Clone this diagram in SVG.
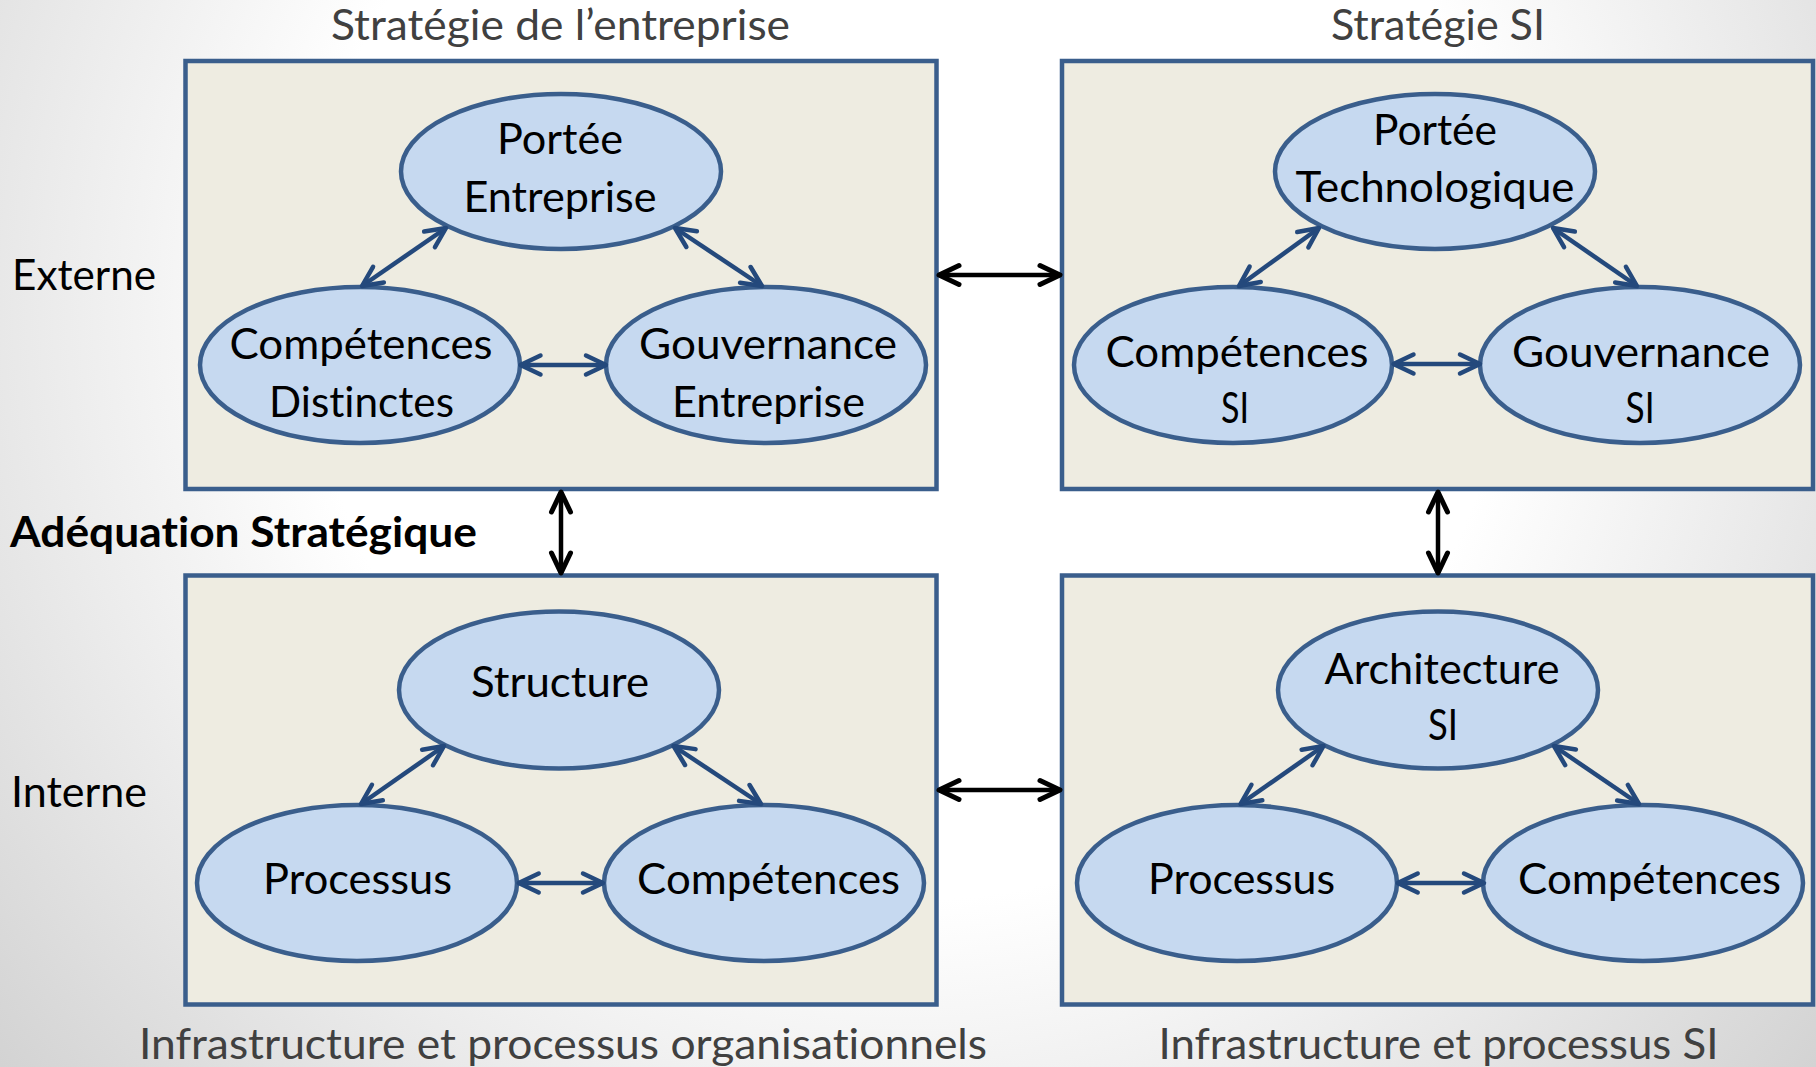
<svg xmlns="http://www.w3.org/2000/svg" width="1816" height="1067" viewBox="0 0 1816 1067">
<defs>
<radialGradient id="bg" gradientUnits="userSpaceOnUse" cx="908" cy="300" r="1200">
<stop offset="0" stop-color="#ffffff"/>
<stop offset="0.5" stop-color="#ffffff"/>
<stop offset="1" stop-color="#d2d2d2"/>
</radialGradient>
<marker id="hb" markerUnits="userSpaceOnUse" orient="auto-start-reverse" refX="0" refY="0" markerWidth="40" markerHeight="40" overflow="visible">
<path d="M-20,-9.5 L0,0 L-20,9.5" fill="none" stroke="#24497c" stroke-width="4.5" stroke-linecap="round" stroke-linejoin="round"/>
</marker>
<marker id="hk" markerUnits="userSpaceOnUse" orient="auto-start-reverse" refX="0" refY="0" markerWidth="40" markerHeight="40" overflow="visible">
<path d="M-20,-9.5 L0,0 L-20,9.5" fill="none" stroke="#000000" stroke-width="5" stroke-linecap="round" stroke-linejoin="round"/>
</marker>
</defs>
<style>
.box{fill:#eeece1;stroke:#3a5e8c;stroke-width:4.5}
.ell{fill:#c6d9f0;stroke:#3a5e8c;stroke-width:4.5}
.t{font-family:Lato,"Liberation Sans",sans-serif;font-size:42px;fill:#000000;font-variant-ligatures:none;font-feature-settings:"liga" 0,"clig" 0}
.c{text-anchor:middle}
.g{fill:#404040}
.b{font-weight:bold}
.ab{stroke:#24497c;stroke-width:4.5;fill:none;marker-start:url(#hb);marker-end:url(#hb)}
.ak{stroke:#000000;stroke-width:4.5;fill:none;marker-start:url(#hk);marker-end:url(#hk)}
</style>
<rect x="0" y="0" width="1816" height="1067" fill="url(#bg)"/>

<g id="labels">
<text class="t c g" x="560.5" y="40" textLength="459" lengthAdjust="spacingAndGlyphs">Stratégie de l’entreprise</text>
<text class="t c g" x="1438" y="40" textLength="214" lengthAdjust="spacingAndGlyphs">Stratégie SI</text>
<text class="t" x="12" y="290" textLength="144" lengthAdjust="spacingAndGlyphs">Externe</text>
<text class="t b" x="10" y="547" textLength="467" lengthAdjust="spacingAndGlyphs">Adéquation Stratégique</text>
<text class="t" x="11" y="807" textLength="136" lengthAdjust="spacingAndGlyphs">Interne</text>
<text class="t c g" x="563" y="1059" textLength="848" lengthAdjust="spacingAndGlyphs">Infrastructure et processus organisationnels</text>
<text class="t c g" x="1438.5" y="1059" textLength="560" lengthAdjust="spacingAndGlyphs">Infrastructure et processus SI</text>
</g>

<g id="box-strategie-entreprise">
<rect class="box" x="185.5" y="61" width="751" height="428"/>
</g>
<g id="box-strategie-si">
<rect class="box" x="1062" y="61" width="751" height="428"/>
</g>
<g id="box-infra-org">
<rect class="box" x="185.5" y="575.5" width="751" height="429"/>
</g>
<g id="box-infra-si">
<rect class="box" x="1062" y="575.5" width="751" height="429"/>
</g>

<g id="node-portee-entreprise">
<ellipse class="ell" cx="561" cy="171.5" rx="160" ry="77.5"/>
<text class="t c" x="560" y="154" textLength="126" lengthAdjust="spacingAndGlyphs">Portée</text>
<text class="t c" x="560" y="212" textLength="193" lengthAdjust="spacingAndGlyphs">Entreprise</text>
</g>
<g id="node-competences-distinctes">
<ellipse class="ell" cx="360" cy="365" rx="160" ry="78"/>
<text class="t c" x="361" y="359" textLength="263" lengthAdjust="spacingAndGlyphs">Compétences</text>
<text class="t c" x="361.5" y="417" textLength="185" lengthAdjust="spacingAndGlyphs">Distinctes</text>
</g>
<g id="node-gouvernance-entreprise">
<ellipse class="ell" cx="766" cy="365" rx="160" ry="78"/>
<text class="t c" x="768" y="359" textLength="258" lengthAdjust="spacingAndGlyphs">Gouvernance</text>
<text class="t c" x="768.5" y="417" textLength="193" lengthAdjust="spacingAndGlyphs">Entreprise</text>
</g>

<g id="node-portee-technologique">
<ellipse class="ell" cx="1435" cy="171.5" rx="160" ry="77.5"/>
<text class="t c" x="1435" y="145" textLength="124" lengthAdjust="spacingAndGlyphs">Portée</text>
<text class="t c" x="1435" y="202" textLength="279" lengthAdjust="spacingAndGlyphs">Technologique</text>
</g>
<g id="node-competences-si">
<ellipse class="ell" cx="1233" cy="365" rx="159" ry="78"/>
<text class="t c" x="1237" y="367" textLength="263" lengthAdjust="spacingAndGlyphs">Compétences</text>
<text class="t c" x="1235" y="423" textLength="28" lengthAdjust="spacingAndGlyphs">SI</text>
</g>
<g id="node-gouvernance-si">
<ellipse class="ell" cx="1640" cy="365" rx="160" ry="78"/>
<text class="t c" x="1641" y="367" textLength="258" lengthAdjust="spacingAndGlyphs">Gouvernance</text>
<text class="t c" x="1640" y="423" textLength="29" lengthAdjust="spacingAndGlyphs">SI</text>
</g>

<g id="node-structure">
<ellipse class="ell" cx="559" cy="690" rx="160" ry="78.5"/>
<text class="t c" x="560" y="697" textLength="178" lengthAdjust="spacingAndGlyphs">Structure</text>
</g>
<g id="node-processus-org">
<ellipse class="ell" cx="357" cy="883" rx="160" ry="78"/>
<text class="t c" x="357.6" y="894" textLength="189" lengthAdjust="spacingAndGlyphs">Processus</text>
</g>
<g id="node-competences-org">
<ellipse class="ell" cx="764" cy="883" rx="160" ry="78"/>
<text class="t c" x="768.6" y="894" textLength="263" lengthAdjust="spacingAndGlyphs">Compétences</text>
</g>

<g id="node-architecture-si">
<ellipse class="ell" cx="1438" cy="690" rx="160" ry="78.5"/>
<text class="t c" x="1442" y="684" textLength="235" lengthAdjust="spacingAndGlyphs">Architecture</text>
<text class="t c" x="1443" y="740" textLength="30" lengthAdjust="spacingAndGlyphs">SI</text>
</g>
<g id="node-processus-si">
<ellipse class="ell" cx="1237" cy="883" rx="160" ry="78"/>
<text class="t c" x="1241.6" y="894" textLength="187" lengthAdjust="spacingAndGlyphs">Processus</text>
</g>
<g id="node-competences-si-infra">
<ellipse class="ell" cx="1643" cy="883" rx="160" ry="78"/>
<text class="t c" x="1649.6" y="894" textLength="263" lengthAdjust="spacingAndGlyphs">Compétences</text>
</g>

<g id="connectors">
<line class="ab" x1="446" y1="228" x2="362" y2="286"/>
<line class="ab" x1="675" y1="228" x2="762" y2="286"/>
<line class="ab" x1="520.5" y1="365" x2="606" y2="365"/>
<line class="ab" x1="1319" y1="228" x2="1239" y2="286"/>
<line class="ab" x1="1553" y1="228" x2="1637" y2="286"/>
<line class="ab" x1="1393.5" y1="364" x2="1480" y2="364"/>
<line class="ab" x1="444" y1="746" x2="361" y2="804"/>
<line class="ab" x1="673.6" y1="746" x2="761" y2="804"/>
<line class="ab" x1="518.7" y1="883" x2="603" y2="883"/>
<line class="ab" x1="1323.5" y1="746" x2="1240.5" y2="804"/>
<line class="ab" x1="1554" y1="746" x2="1639" y2="804"/>
<line class="ab" x1="1397.7" y1="883" x2="1484" y2="883"/>
<line class="ak" x1="939" y1="275" x2="1060" y2="275"/>
<line class="ak" x1="939" y1="790" x2="1060" y2="790"/>
<line class="ak" x1="561" y1="492" x2="561" y2="573"/>
<line class="ak" x1="1438" y1="492" x2="1438" y2="573"/>
</g>
</svg>
